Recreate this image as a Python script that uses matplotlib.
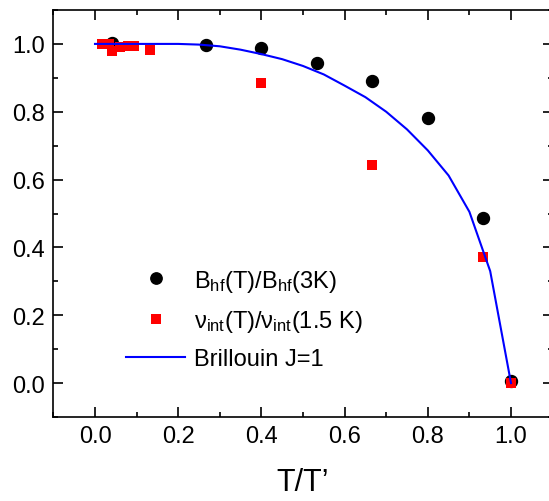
import matplotlib
matplotlib.use("Agg")
import matplotlib.pyplot as plt
from matplotlib.ticker import MultipleLocator

plt.rcParams['font.family'] = ['Liberation Sans', 'DejaVu Sans']
plt.rcParams['mathtext.fontset'] = 'custom'
plt.rcParams['mathtext.rm'] = 'Liberation Sans'
plt.rcParams['mathtext.it'] = 'Liberation Sans:italic'

# Data
bhf_x = [0.04, 0.267, 0.40, 0.533, 0.667, 0.80, 0.933, 1.0]
bhf_y = [1.002, 0.997, 0.989, 0.945, 0.891, 0.783, 0.488, 0.005]

nu_x = [0.017, 0.033, 0.04, 0.06, 0.08, 0.093, 0.133, 0.40, 0.667, 0.933, 1.0]
nu_y = [1.0, 1.0, 0.98, 0.99, 0.995, 0.995, 0.982, 0.885, 0.643, 0.372, 0.0]

bri_x = [0.0, 0.1, 0.2, 0.25, 0.3, 0.35, 0.4, 0.45, 0.5, 0.55, 0.6, 0.65,
         0.7, 0.75, 0.8, 0.85, 0.9, 0.95, 1.0]
bri_y = [1.0, 1.0, 1.0, 0.998, 0.993, 0.983, 0.970, 0.955, 0.935, 0.910, 0.877,
         0.843, 0.800, 0.748, 0.686, 0.612, 0.505, 0.330, 0.0]

xticks = [0.0, 0.2, 0.4, 0.6, 0.8, 1.0]
yticks = [0.0, 0.2, 0.4, 0.6, 0.8, 1.0]

fig = plt.figure(figsize=(5.49, 5.02), dpi=100)
ax = fig.add_axes([53.4 / 549, (502 - 418) / 502, 499.2 / 549, 407 / 502])

h1, = ax.plot(bhf_x, bhf_y, 'o', color='black', markersize=8.6, linestyle='none',
              label=r'B$_{\rm hf}$(T)/B$_{\rm hf}$(3K)', zorder=3)
h2, = ax.plot(nu_x, nu_y, 's', color='#ff0000', markersize=7.6, linestyle='none',
              markeredgewidth=0, label=r'ν$_{\rm int}$(T)/ν$_{\rm int}$(1.5 K)', zorder=4)
h3, = ax.plot(bri_x, bri_y, '-', color='#0000ff', linewidth=1.5,
              label='Brillouin J=1', zorder=5)

ax.set_xlim(-0.1, 1.1)
ax.set_ylim(-0.1, 1.1)
ax.set_xticks(xticks)
ax.set_yticks(yticks)
ax.set_xticklabels([f'{v:.1f}' for v in xticks])
ax.set_yticklabels([f'{v:.1f}' for v in yticks])
ax.xaxis.set_minor_locator(MultipleLocator(0.1))
ax.yaxis.set_minor_locator(MultipleLocator(0.1))
ax.tick_params(which='both', direction='in', top=True, right=True, width=1.2)
ax.tick_params(which='major', length=7, labelsize=17, pad=6)
ax.tick_params(which='minor', length=3.5)
for s in ax.spines.values():
    s.set_linewidth(1.2)

ax.set_xlabel("T/T’", fontsize=22, labelpad=14)

leg = ax.legend(handles=[h1, h2, h3], loc='center left',
                bbox_to_anchor=(0.146, 0.241), frameon=False, fontsize=17,
                borderpad=0, borderaxespad=0, handlelength=2.5,
                handletextpad=0.35, labelspacing=0.6, markerscale=0.95)

fig.savefig('out.png', dpi=100)
